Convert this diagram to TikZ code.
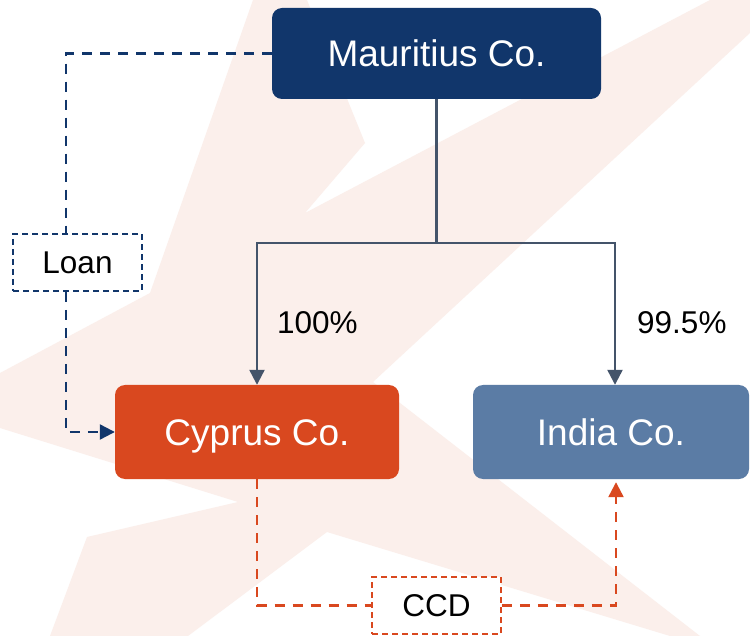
\documentclass[tikz,border=0pt]{standalone}
\usepackage{fontspec}
\setmainfont{Liberation Sans}
\usetikzlibrary{arrows.meta}
\definecolor{navy}{RGB}{17,54,107}
\definecolor{cyorange}{RGB}{217,72,31}
\definecolor{indiablue}{RGB}{91,124,165}
\definecolor{treegray}{RGB}{68,84,106}
\definecolor{wm}{RGB}{251,239,235}
\begin{document}
\begin{tikzpicture}[x=1pt,y=-1pt,
  box/.style={rounded corners=10pt, inner sep=0pt, text=white,
    font=\fontsize{37}{44}\selectfont, text height=26.5pt, text depth=0pt},
  lbl/.style={inner sep=0pt, text=black, font=\fontsize{31.5}{38}\selectfont,
    text height=22.6pt, text depth=0pt},
  tagbox/.style={lbl, draw, fill=white, line width=1.6pt, dash pattern=on 6pt off 4pt,
    minimum width=129pt, minimum height=57pt},
  tip/.style={-{Triangle[width=15pt,length=15pt]}},
  tree/.style={draw=treegray, line width=2.3pt},
  loanline/.style={draw=navy, line width=2.3pt, dash pattern=on 10pt off 8pt},
  ccdline/.style={draw=cyorange, line width=2.3pt, dash pattern=on 10pt off 8pt}
]
\useasboundingbox (0,0) rectangle (750,636);
\fill[white] (0,0) rectangle (750,636);
% watermark
\fill[wm] (253,0) -- (307,0) -- (365,143) -- (305,213) -- (710,0) -- (750,0) -- (750,33)
  -- (373,382) -- (700,636) -- (670,636) -- (327,532) -- (188,636) -- (50,636)
  -- (87,537) -- (238,502) -- (0,428) -- (0,373) -- (150,293) -- cycle;

% nodes
\node[box, fill=navy, minimum width=329pt, minimum height=91pt] (M) at (436.5,53.5) {Mauritius Co.};
\node[box, fill=cyorange, minimum width=284pt, minimum height=94pt] (C) at (257,432) {Cyprus Co.};
\node[box, fill=indiablue, minimum width=276pt, minimum height=94pt] (I) at (611,432) {India Co.};
\node[tagbox, draw=navy] (L) at (77.5,262.5) {Loan};
\node[tagbox, draw=cyorange] (D) at (436.5,605.5) {CCD};
\node[lbl, anchor=west] (p1) at (277,322) {100\%};
\node[lbl, anchor=west] (p2) at (637,322) {99.5\%};

% ownership tree
\draw[tree] (M.south) -- ++(0,144) coordinate (mid);
\draw[tree, tip] (mid) -| (C.north);
\draw[tree, tip] (mid) -| ([xshift=4pt]I.north);

% loan
\draw[loanline] (M.west) -| ([xshift=-11.5pt]L.north);
\draw[loanline, tip] ([xshift=-11.5pt]L.south) |- (C.west);

% CCD
\draw[ccdline] (C.south) |- (D.west);
\draw[ccdline, tip, shorten >=3pt] (D.east) -| ([xshift=5pt]I.south);
\end{tikzpicture}
\end{document}
